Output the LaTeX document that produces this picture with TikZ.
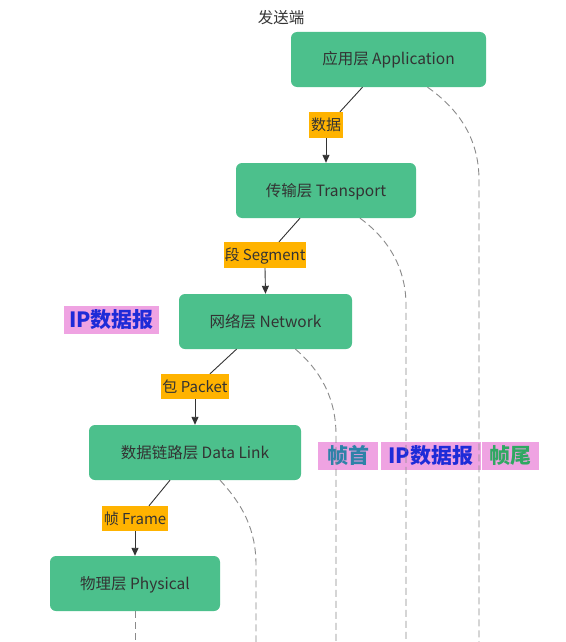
\documentclass[tikz,border=0pt]{standalone}
\usepackage{fontspec}
\setmainfont{Noto Sans CJK SC}
\newfontfamily\hand{Noto Sans CJK SC}
\usetikzlibrary{arrows.meta,calc}
\definecolor{boxgreen}{HTML}{4CC08C}
\definecolor{laborange}{HTML}{FFB300}
\definecolor{txt}{HTML}{333333}
\definecolor{pinkbg}{HTML}{EFA3E2}
\definecolor{dashgray}{HTML}{8A8A8A}
\definecolor{ipblue}{HTML}{1E2BD8}
\definecolor{headteal}{HTML}{2E82A8}
\definecolor{tailgreen}{HTML}{2FA862}
\tikzset{
  layer/.style={fill=boxgreen, rounded corners=6pt, minimum height=55pt, inner sep=0pt,
    text=txt, font=\fontsize{15.5pt}{17pt}\selectfont, text height=11pt, text depth=0pt},
  lab/.style={fill=laborange, inner sep=0pt, text=txt, font=\fontsize{15pt}{17pt}\selectfont,
    text height=11pt, text depth=0pt},
  tag/.style={fill=pinkbg, inner sep=0pt, minimum height=28pt, text height=15pt, text depth=0pt,
    font=\hand\bfseries\fontsize{21pt}{23pt}\selectfont},
  flow/.style={draw=txt, line width=0.9pt},
  flowarr/.style={flow, -{Triangle[length=8pt,width=7pt]}},
  life/.style={draw=dashgray, line width=0.9pt, dash pattern=on 7pt off 4pt}
}
\begin{document}
\begin{tikzpicture}[x=1pt,y=-1pt]
\useasboundingbox (0,0) rectangle (565,642);
\fill[white] (0,0) rectangle (565,642);
\node[text=txt, font=\fontsize{15.5pt}{17pt}\selectfont, text height=11pt, text depth=0pt] (title) at (281,18) {发送端};
\node[layer, minimum width=195pt] (app) at (388.5,59.5) {应用层 Application};
\node[layer, minimum width=180pt] (tra) at (326,190.5) {传输层 Transport};
\node[layer, minimum width=173pt] (net) at (265.5,321.5) {网络层 Network};
\node[layer, minimum width=212pt] (dl) at (195,452.5) {数据链路层 Data Link};
\node[layer, minimum width=170pt] (phy) at (135,583.5) {物理层 Physical};
\node[lab, minimum width=34pt, minimum height=26pt] (l1) at (326,125) {数据};
\node[lab, minimum width=82pt, minimum height=26pt] (l2) at (265,255) {段 Segment};
\node[lab, minimum width=68pt, minimum height=25pt] (l3) at (195,386.5) {包 Packet};
\node[lab, minimum width=66pt, minimum height=25pt] (l4) at (135,518.5) {帧 Frame};
% solid flow
\draw[flow] ([xshift=-26pt]app.south) -- ([xshift=14pt]l1.north);
\draw[flowarr] (l1.south) -- (tra.north);
\draw[flow] ([xshift=-26pt]tra.south) -- ([xshift=14pt]l2.north);
\draw[flowarr] (l2.south) -- (net.north);
\draw[flow] ([xshift=-29pt]net.south) -- ([xshift=15pt]l3.north);
\draw[flowarr] (l3.south) -- (dl.north);
\draw[flow] ([xshift=-25pt]dl.south) -- ([xshift=14pt]l4.north);
\draw[flowarr] (l4.south) -- (phy.north);
% tags
\node[tag, minimum width=95pt, text=ipblue] (ip1) at (111.5,319.5) {IP数据报};
\node[tag, minimum width=60pt, text=headteal] (hd) at (348,456) {帧首};
\node[tag, minimum width=100pt, text=ipblue] (ip2) at (431,456) {IP数据报};
\node[tag, minimum width=57pt, text=tailgreen] (tl) at (510.5,456) {帧尾};
% dashed lines
\coordinate (e1) at (479,642);
\coordinate (e2) at (406,642);
\coordinate (e3) at (336,642);
\coordinate (e4) at (256,642);
\coordinate (e5) at (135,642);
\draw[life] ([xshift=39pt]app.south) .. controls (460,110) and (479,140) .. (479,180) -- (e1);
\draw[life] ([xshift=34pt]tra.south) .. controls (390,240) and (406,270) .. (406,305) -- (e2);
\draw[life] ([xshift=30pt]net.south) .. controls (322,372) and (336,400) .. (336,435) -- (e3);
\draw[life] ([xshift=25pt]dl.south) .. controls (243,505) and (256,530) .. (256,565) -- (e4);
\draw[life] (phy.south) -- (e5);
\end{tikzpicture}
\end{document}
